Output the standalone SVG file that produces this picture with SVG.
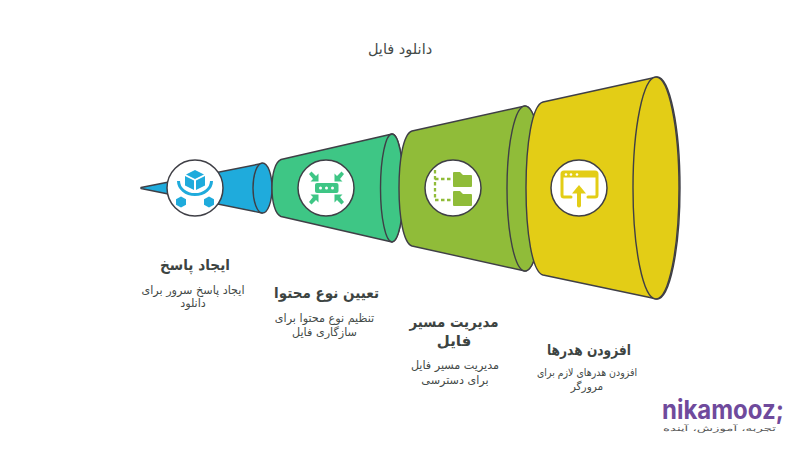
<svg xmlns="http://www.w3.org/2000/svg" width="800" height="450" viewBox="0 0 800 450">
<style>
.b{stroke:#3f3f46;stroke-width:1.4;stroke-linejoin:round}
.c{fill:#fff;stroke:#3f3f46;stroke-width:1.5}
text{font-family:"DejaVu Sans","Noto Sans",sans-serif;text-anchor:middle;direction:rtl;fill:#444a48}
.t{font-size:15px;font-weight:700;fill:#3d4442}
.d{font-size:11.2px}
</style>
<rect width="800" height="450" fill="#fff"/>
<text id="title" x="400" y="54" font-size="14.5">دانلود فایل</text>
<g id="s1">
<path class="b" fill="#1fabdc" d="M141 187.500L262 163.500A9.500 25 0 0 1 262 213L141 188.500Z"/>
<ellipse class="b" fill="#1fabdc" cx="262.500" cy="188" rx="9.500" ry="25"/>
<circle class="c" cx="195" cy="188" r="28"/>
<g fill="#1fabdc">
<path d="M195 170l9 4.500-9 4.500-9-4.500z"/>
<path d="M185 176l9 4.500v9.500l-9-4.500z"/>
<path d="M205 176l-9 4.500v9.500l9-4.500z"/>
<path d="M178.500 181A16.500 13.500 0 0 0 211.500 181" fill="none" stroke="#1fabdc" stroke-width="3"/>
<path d="M181 196.500l5 2.800v5.400l-5 2.800-5-2.800v-5.400z"/>
<path d="M209 196.500l5 2.800v5.400l-5 2.800-5-2.800v-5.400z"/>
</g>
</g>
<g id="s2">
<path class="b" fill="#3ec685" d="M281 159.500L392 134A11.500 54 0 0 1 392 242L281 216.500C275 214 272 202 272 188C272 174 275 162 281 159.500Z"/>
<ellipse class="b" fill="#3ec685" cx="392" cy="188" rx="11.500" ry="54"/>
<circle class="c" cx="326" cy="188" r="28"/>
<rect x="315" y="183" width="23.500" height="10" rx="2" fill="#3ec685"/>
<g fill="#fff"><circle cx="320.500" cy="188" r="1.500"/><circle cx="326.500" cy="188" r="1.500"/><circle cx="332.500" cy="188" r="1.500"/></g>
<g fill="#3ec685">
<path id="a" d="M309 174l2.500-2.500 4.500 4.500 2.500-2.500v8h-8l2.500-2.500z"/>
<path d="M344 174l-2.500-2.500-4.500 4.500-2.500-2.500v8h8l-2.500-2.500z"/>
<path d="M309 202l2.500 2.500 4.500-4.500 2.500 2.500v-8h-8l2.500 2.500z"/>
<path d="M344 202l-2.500 2.500-4.500-4.500-2.500 2.500v-8h8l-2.500 2.500z"/>
</g>
</g>
<g id="s3">
<path class="b" fill="#90bc39" d="M412 131L525 106A18 82.500 0 0 1 525 271L412 246C403 243 399 215 399 188C399 161 403 134 412 131Z"/>
<ellipse class="b" fill="#90bc39" cx="525" cy="188.500" rx="18" ry="82.500"/>
<circle class="c" cx="453" cy="188" r="28"/>
<path d="M435 170v30h17M435 179h17" fill="none" stroke="#90bc39" stroke-width="2.300" stroke-dasharray="3.500 2.500"/>
<g fill="#90bc39">
<path d="M453 173a1 1 0 0 1 1-1h6l3 3h8a1 1 0 0 1 1 1v10a1 1 0 0 1-1 1h-17a1 1 0 0 1-1-1z"/>
<path d="M453 192a1 1 0 0 1 1-1h6l3 3h8a1 1 0 0 1 1 1v10a1 1 0 0 1-1 1h-17a1 1 0 0 1-1-1z"/>
</g>
</g>
<g id="s4">
<path class="b" fill="#e3cd16" d="M543 102L657 77A23 111 0 0 1 657 299L543 275C532 272 526 232 526 188C526 144 532 105 543 102Z"/>
<ellipse class="b" fill="#e3cd16" cx="656" cy="188" rx="23" ry="111"/>
<circle class="c" cx="579" cy="188" r="28"/>
<path d="M571 197h-7a2 2 0 0 1-2-2v-21a2 2 0 0 1 2-2h31a2 2 0 0 1 2 2v21a2 2 0 0 1-2 2h-7" fill="none" stroke="#e3cd16" stroke-width="3" stroke-linecap="round"/>
<rect x="562" y="172" width="35" height="5.500" fill="#e3cd16"/>
<path d="M579 205.500v-13" fill="none" stroke="#e3cd16" stroke-width="4" stroke-linecap="round"/>
<path d="M572 193.500l7-8.500 7 8.500z" fill="#e3cd16"/>
<g fill="#fff"><circle cx="566" cy="174.500" r="1.300"/><circle cx="571" cy="174.500" r="1.300"/><circle cx="577" cy="174.500" r="1.300"/></g>
</g>
<g id="l1">
<text class="t" x="195" y="270" textLength="70" lengthAdjust="spacingAndGlyphs">ایجاد پاسخ</text>
<text class="d" x="193" y="294">ایجاد پاسخ سرور برای</text>
<text class="d" x="193" y="307">دانلود</text>
</g>
<g id="l2">
<text class="t" x="326.500" y="298" textLength="105" lengthAdjust="spacingAndGlyphs">تعیین نوع محتوا</text>
<text class="d" x="324.500" y="322">تنظیم نوع محتوا برای</text>
<text class="d" x="324.500" y="336">سازگاری فایل</text>
</g>
<g id="l3">
<text class="t" x="454" y="327" textLength="89" lengthAdjust="spacingAndGlyphs">مدیریت مسیر</text>
<text class="t" x="454" y="346">فایل</text>
<text class="d" x="455" y="369">مدیریت مسیر فایل</text>
<text class="d" x="455" y="384">برای دسترسی</text>
</g>
<g id="l4">
<text class="t" x="589" y="355" textLength="84" lengthAdjust="spacingAndGlyphs">افزودن هدرها</text>
<text class="d" x="587" y="376" style="font-size:10.500px" textLength="100" lengthAdjust="spacingAndGlyphs">افزودن هدرهای لازم برای</text>
<text class="d" x="587" y="390" style="font-size:10.500px">مرورگر</text>
</g>
<g id="logo">
<text x="723" y="419" style="direction:ltr;font-family:Inter,sans-serif;font-size:26px;font-weight:700;fill:#6f4a9c" textLength="122" lengthAdjust="spacingAndGlyphs">nikamooz;</text>
<text x="719.500" y="431" style="font-size:7.500px;fill:#555" textLength="113" lengthAdjust="spacingAndGlyphs">تجربه، آموزش، آینده</text>
</g>
</svg>
